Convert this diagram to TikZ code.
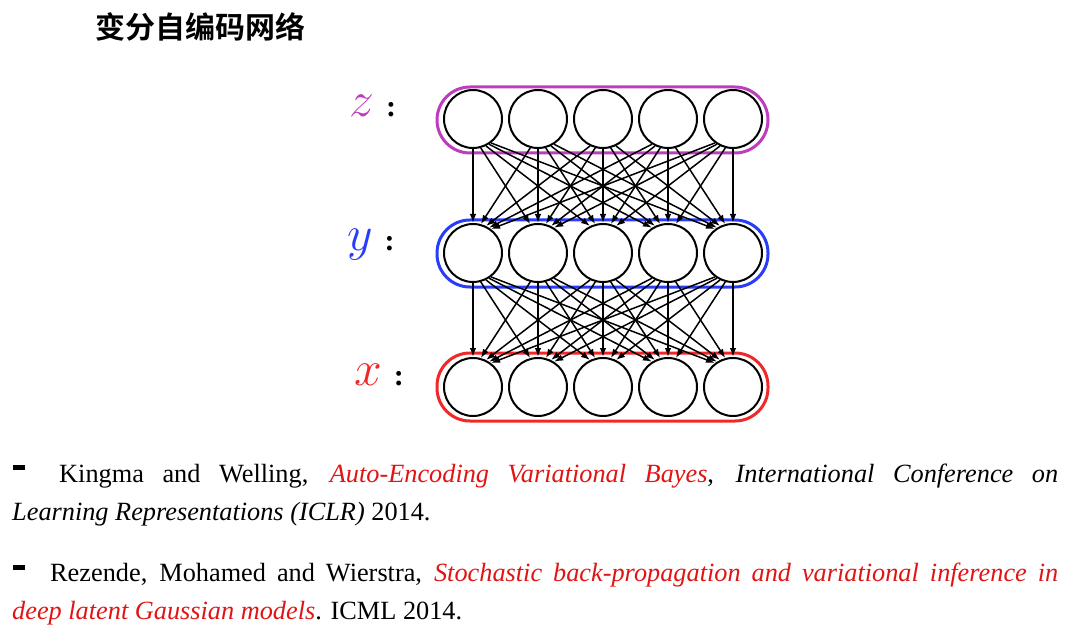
\documentclass[tikz,border=0pt]{standalone}
\usepackage{graphicx}
\usepackage{fontspec}
\setmainfont{Liberation Serif}
\newfontfamily\cjk{Noto Sans CJK SC}[BoldFont={Noto Sans CJK SC Bold}]
\usetikzlibrary{arrows.meta,calc}
\definecolor{zcol}{RGB}{190,60,190}
\definecolor{ycol}{RGB}{40,60,250}
\definecolor{xcol}{RGB}{240,40,40}
\definecolor{refred}{RGB}{225,20,20}
\begin{document}
\begin{tikzpicture}[x=1pt,y=-1pt,
  neuron/.style={circle,draw=black,line width=2pt,fill=white,minimum size=58pt,inner sep=0pt},
  layerbox/.style={line width=3pt,rounded corners=33pt},
  conn/.style={-{Latex[length=9pt,width=6.5pt]},line width=1.5pt,black},
  varlabel/.style={anchor=base west,inner sep=0pt,font=\fontsize{30}{34}\selectfont},
  reftext/.style={anchor=base west,inner sep=0pt,font=\fontsize{26.3}{31}\selectfont},
  bulletmark/.style={fill=black,inner sep=0pt,minimum width=12pt,minimum height=5pt,anchor=north west}
]
\useasboundingbox (0,0) rectangle (1071,631);

% title
\node[anchor=west,inner sep=0pt,font=\cjk\bfseries\fontsize{30}{35}\selectfont] (title) at (95,27) {变分自编码网络};

% layer boxes
\draw[layerbox,draw=zcol] (437,87) rectangle (768,153);
\draw[layerbox,draw=ycol] (437,220) rectangle (768,287);
\draw[layerbox,draw=xcol] (437,353) rectangle (768,421);

% neurons
\foreach \i/\xx in {1/473,2/538,3/603,4/668,5/733}{
  \node[neuron] (z\i) at (\xx,119) {};
  \node[neuron] (y\i) at (\xx,253) {};
  \node[neuron] (x\i) at (\xx,387) {};
}

% connections: from lower part of source to upper part of target
\foreach \i in {1,...,5}{
  \foreach \j in {1,...,5}{
    \pgfmathsetmacro{\ddx}{65*(\j-\i)}
    \pgfmathsetmacro{\ddy}{134-2*17}
    \pgfmathsetmacro{\len}{veclen(\ddx,\ddy)}
    \pgfmathsetmacro{\ux}{\ddx/\len}
    \pgfmathsetmacro{\uy}{\ddy/\len}
    \pgfmathsetmacro{\tt}{-17*\uy+sqrt(17*17*\uy*\uy-17*17+30*30)}
    \pgfmathsetmacro{\ox}{\tt*\ux}
    \pgfmathsetmacro{\oy}{17+\tt*\uy}
    \draw[conn] ($(z\i.center)+(\ox,\oy)$) -- ($(y\j.center)+(-\ox,-\oy)$);
    \draw[conn] ($(y\i.center)+(\ox,\oy)$) -- ($(x\j.center)+(-\ox,-\oy)$);
  }
}

% labels
\node[varlabel] (lz) at (349,117) {\textcolor{zcol}{\scalebox{2}{$z$}}\hspace{12pt}\textbf{:}};
\node[varlabel] (ly) at (347,251) {\textcolor{ycol}{\scalebox{2}{$y$}}\hspace{12pt}\textbf{:}};
\node[varlabel] (lx) at (354,385) {\textcolor{xcol}{\scalebox{2}{$x$}}\hspace{12pt}\textbf{:}};

% references
\node[bulletmark] (b1) at (13,465) {};
\node[reftext] (r1) at (59,482) {\makebox[999pt][s]{Kingma and Welling, \textcolor{refred}{\textit{Auto-Encoding Variational Bayes}}, \textit{International Conference on}}};
\node[reftext] (r2) at (12,520) {\textit{Learning Representations (ICLR)} 2014.};
\node[bulletmark] (b2) at (13,565) {};
\node[reftext] (r3) at (50,581) {\makebox[1008pt][s]{Rezende, Mohamed and Wierstra, \textcolor{refred}{\textit{Stochastic back-propagation and variational inference in}}}};
\node[reftext] (r4) at (12,619) {\textcolor{refred}{\textit{deep latent Gaussian models}}. ICML 2014.};
\end{tikzpicture}
\end{document}
